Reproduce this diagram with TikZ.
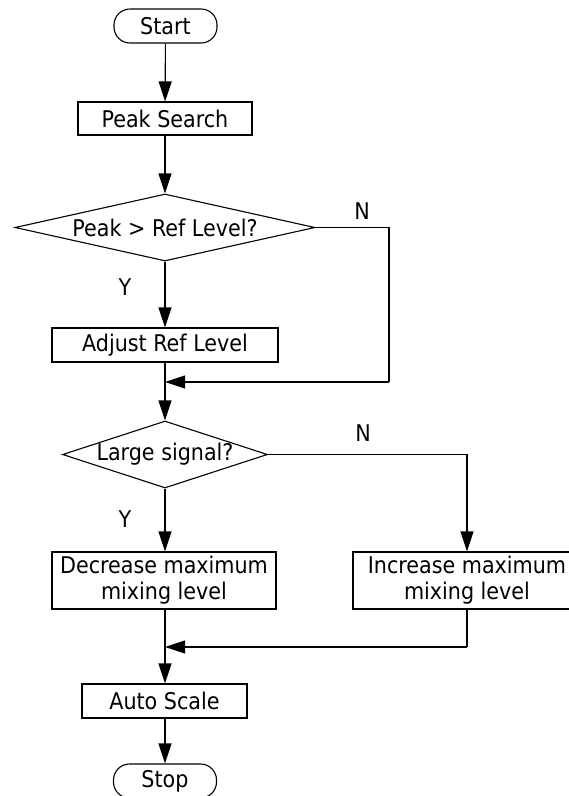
\documentclass[tikz,border=0pt]{standalone}
\usepackage{fontspec}
\setmainfont{DejaVu Sans Condensed}
\usetikzlibrary{shapes.geometric,arrows.meta}
\begin{document}
\begin{tikzpicture}[x=1pt,y=-1pt,
  every node/.style={font=\fontsize{23}{26}\selectfont, text=black},
  term/.style={draw, line width=1.1pt, rectangle, rounded corners=16pt, inner sep=0pt, minimum width=103pt, minimum height=34pt},
  procbox/.style={draw, line width=1.1pt, rectangle, inner sep=0pt, align=center},
  decision/.style={draw, line width=1.1pt, diamond, inner sep=0pt},
  lbl/.style={inner sep=0pt},
  link/.style={line width=1.1pt, draw=black},
  flow/.style={link, -{Triangle[length=20pt,width=13pt]}}
]
\useasboundingbox (0,0) rectangle (569,796);

\node[term] (start) at (165.5,26) {Start};
\node[procbox, minimum width=174pt, minimum height=33pt] (peak) at (165,118.5) {Peak Search};
\node[decision, minimum width=300pt, minimum height=67pt] (d1) at (165,227.5) {\makebox[0pt]{Peak > Ref Level?}};
\node[procbox, minimum width=226pt, minimum height=34pt] (adjust) at (165,345) {Adjust Ref Level};
\coordinate (m1) at (165,382);
\coordinate (c1) at (389,382);
\node[decision, minimum width=205pt, minimum height=67pt] (d2) at (165,454.5) {\makebox[0pt]{Large signal?}};
\node[procbox, minimum width=224pt, minimum height=57pt] (dec) at (164,580.5) {Decrease maximum\\mixing level};
\node[procbox, minimum width=228pt, minimum height=57pt] (inc) at (467,580.5) {Increase maximum\\mixing level};
\coordinate (m2) at (165,647);
\coordinate (c2) at (467,647);
\node[procbox, minimum width=165pt, minimum height=34pt] (auto) at (164.5,701) {Auto Scale};
\node[term] (stop) at (165,781) {Stop};

\node[lbl] (n1) at (362,211) {N};
\node[lbl] (y1) at (125,287) {Y};
\node[lbl] (n2) at (363,433) {N};
\node[lbl] (y2) at (125,519) {Y};

\draw[flow] (start) -- (peak);
\draw[flow] (peak) -- (d1);
\draw[flow] (d1) -- (adjust);
\draw[link] (d1.east) -| (c1);
\draw[flow] (c1) -- (m1);
\draw[link] (adjust) -- (m1);
\draw[flow] (m1) -- (d2);
\draw[flow] (d2.south) -- (d2.south |- dec.north);
\draw[flow] (d2.east) -| (inc.north);
\draw[link] (dec.south -| m2) -- (m2);
\draw[link] (inc.south) -- (c2);
\draw[flow] (c2) -- (m2);
\draw[flow] (m2) -- (m2 |- auto.north);
\draw[flow] (auto.south -| stop.north) -- (stop);
\end{tikzpicture}
\end{document}
